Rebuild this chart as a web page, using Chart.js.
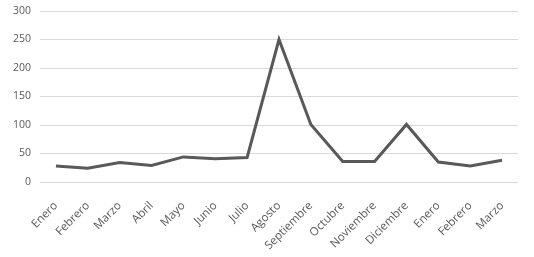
<!DOCTYPE html>
<html><head><meta charset="utf-8">
<script src="https://cdn.jsdelivr.net/npm/chart.js@4/dist/chart.umd.min.js"></script>
<style>html,body{margin:0;padding:0;background:#fff;}#w{width:534px;height:257px;}</style>
</head><body><div id="w"><canvas id="c"></canvas></div>
<script>
const categories = ["Enero","Febrero","Marzo","Abril","Mayo","Junio","Julio","Agosto","Septiembre","Octubre","Noviembre","Diciembre","Enero","Febrero","Marzo"];
const values = [28,24,34,29,44,41,43,250,101,36,36,101,35,28,38];
const yTicks = [0,50,100,150,200,250,300];

new Chart(document.getElementById('c'), {
  type: 'line',
  data: { labels: categories, datasets: [{ data: values, borderColor: '#595959', borderWidth: 3, pointRadius: 0, tension: 0, fill: false }] },
  options: {
    responsive: true, maintainAspectRatio: false, animation: false,
    plugins: { legend: { display: false }, tooltip: { enabled: false } },
    layout: { padding: { top: 11, right: 16, bottom: 0, left: 0 } },
    scales: {
      x: { offset: true, grid: { display: false }, border: { display: false },
           afterFit: s => { s.height = 75; },
           ticks: { color: '#595959', font: { family: 'Open Sans', size: 11.5 }, maxRotation: 45, minRotation: 45, autoSkip: false, padding: 9 } },
      y: { min: 0, max: 300, afterBuildTicks: s => { s.ticks = yTicks.map(v => ({ value: v })); },
           afterFit: s => { s.width = 40; s.paddingTop = 0; },
           grid: { color: '#d9d9d9', lineWidth: 1, drawTicks: false }, border: { display: false },
           ticks: { color: '#595959', font: { family: 'Open Sans', size: 10.5 }, padding: 9 } }
    }
  }
});
</script></body></html>
